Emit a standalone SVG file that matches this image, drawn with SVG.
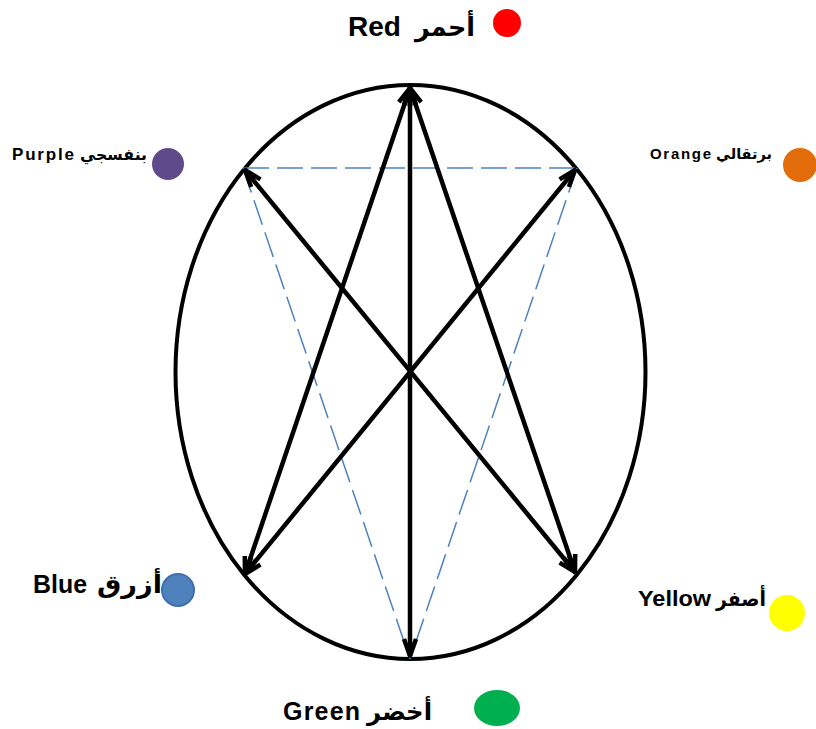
<svg xmlns="http://www.w3.org/2000/svg" width="816" height="729" viewBox="0 0 816 729">
<style>
.lbl{font-family:"Liberation Sans","DejaVu Sans",sans-serif;font-weight:bold;fill:#000}
.ar{font-family:"DejaVu Sans","Noto Sans",sans-serif;font-weight:bold;fill:#000}
.arw{stroke:#000;stroke-width:4.5;fill:none;marker-start:url(#ah);marker-end:url(#ah)}
.dash{stroke:#4f81bd;stroke-width:1.5;fill:none;stroke-dasharray:26 8}
</style>
<defs>
<marker id="ah" markerUnits="userSpaceOnUse" viewBox="-20 -10 22 20" refX="0" refY="0" markerWidth="22" markerHeight="20" orient="auto-start-reverse">
<path d="M-17,-6 L0,0 L-17,6" fill="none" stroke="#000" stroke-width="4.5" stroke-linejoin="miter"/>
</marker>
</defs>
<g id="ellipse"><ellipse cx="410.5" cy="372" rx="235" ry="287" fill="none" stroke="#000" stroke-width="4"/></g>
<g id="connectors">
<line class="dash" x1="243" y1="168" x2="577" y2="168"/>
<line class="dash" x1="243" y1="168" x2="410" y2="659"/>
<line class="dash" x1="577" y1="168" x2="410" y2="659"/>
<line class="arw" x1="410" y1="88" x2="410" y2="656"/>
<line class="arw" x1="410" y1="88" x2="245" y2="574"/>
<line class="arw" x1="410" y1="88" x2="575" y2="572"/>
<line class="arw" x1="245" y1="170" x2="575" y2="572"/>
<line class="arw" x1="575" y1="170" x2="245" y2="574"/>
</g>
<g id="red">
<text class="lbl" x="348" y="36" font-size="28">Red</text>
<text class="ar" x="415" y="36" font-size="26" textLength="60" lengthAdjust="spacingAndGlyphs">أحمر</text>
<circle cx="507" cy="23" r="14" fill="#ff0000"/>
</g>
<g id="purple">
<text class="lbl" x="12" y="160" font-size="17" textLength="62">Purple</text>
<text class="ar" x="80" y="160" font-size="16" textLength="67" lengthAdjust="spacingAndGlyphs">بنفسجي</text>
<circle cx="168" cy="164" r="16" fill="#5f4b8b"/>
</g>
<g id="orange">
<text class="lbl" x="650" y="159" font-size="15" textLength="61">Orange</text>
<text class="ar" x="716" y="159" font-size="15" textLength="56" lengthAdjust="spacingAndGlyphs">برتقالي</text>
<circle cx="800" cy="165" r="17" fill="#e36c0a"/>
</g>
<g id="blue">
<text class="lbl" x="33" y="593" font-size="26" textLength="54" lengthAdjust="spacingAndGlyphs">Blue</text>
<text class="ar" x="97" y="593" font-size="25" textLength="65" lengthAdjust="spacingAndGlyphs">أزرق</text>
<circle cx="178" cy="590" r="16" fill="#4f81bd" stroke="#3f6fb0" stroke-width="2"/>
</g>
<g id="yellow">
<text class="lbl" x="638" y="606" font-size="22" textLength="73" lengthAdjust="spacingAndGlyphs">Yellow</text>
<text class="ar" x="716" y="606" font-size="21" textLength="50" lengthAdjust="spacingAndGlyphs">أصفر</text>
<circle cx="787" cy="613" r="18" fill="#ffff00"/>
</g>
<g id="green">
<text class="lbl" x="283" y="720" font-size="25" textLength="77">Green</text>
<text class="ar" x="367" y="720" font-size="24" textLength="65" lengthAdjust="spacingAndGlyphs">أخضر</text>
<ellipse cx="497" cy="708" rx="23" ry="18" fill="#00b050"/>
</g>
</svg>
